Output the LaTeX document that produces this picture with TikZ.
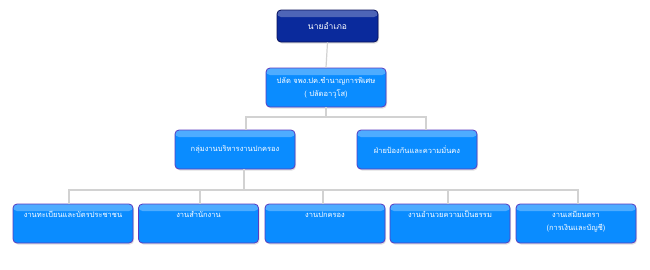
\documentclass[tikz,border=0pt]{standalone}
\usepackage{fontspec}
\newfontfamily\thaifont[Script=Thai]{Loma}
\usetikzlibrary{shadows}
\definecolor{navy}{HTML}{0A2A9C}
\definecolor{navyedge}{HTML}{08105A}
\definecolor{sky}{HTML}{0A8CFF}
\definecolor{skyedge}{HTML}{5A3CC0}
\definecolor{linkgray}{HTML}{D2D2D2}
\begin{document}
\begin{tikzpicture}[
  x=1pt, y=-1pt,
  orgbox/.style={rectangle, rounded corners=4pt, line width=0.8pt, align=center,
    font=\thaifont\fontsize{7.5}{13}\selectfont, text=white,
    drop shadow={opacity=0.25, shadow xshift=1pt, shadow yshift=-1.5pt},
    path picture={\fill[white, opacity=0.28] (path picture bounding box.north west)
      rectangle ([yshift=-7pt]path picture bounding box.north east);}},
  topbox/.style={orgbox, draw=navyedge, fill=navy, minimum width=101pt, minimum height=32pt,
    font=\thaifont\fontsize{8.5}{10}\selectfont},
  midbox/.style={orgbox, draw=skyedge, fill=sky, minimum width=120pt, minimum height=39pt},
  lowbox/.style={midbox, text height=9pt, text depth=22pt, inner ysep=4pt},
  lowbox2/.style={midbox, text height=22pt, text depth=9pt, inner ysep=4pt},
  link/.style={draw=linkgray, line width=1.2pt}]
  % connectors
  \coordinate (split1) at (326, 117);
  \coordinate (split2) at (244, 190);
  % boxes
  \node[topbox] (chief) at (327.5, 26) {นายอำเภอ};
  \node[midbox] (deputy) at (326, 87.5) {ปลัด จพง.ปค.ชำนาญการพิเศษ\\( ปลัดอาวุโส)};
  \node[midbox] (admin) at (235, 149.5) {กลุ่มงานบริหารงานปกครอง};
  \node[midbox] (defence) at (417, 149.5) {ฝ่ายป้องกันและความมั่นคง};
  \node[lowbox] (registry) at (73, 223.5) {งานทะเบียนและบัตรประชาชน};
  \node[lowbox] (office) at (198.5, 223.5) {งานสำนักงาน};
  \node[lowbox] (govern) at (325, 223.5) {งานปกครอง};
  \node[lowbox] (justice) at (450, 223.5) {งานอำนวยความเป็นธรรม};
  \node[lowbox2] (finance) at (576, 223.5) {งานเสมียนตรา\\(การเงินและบัญชี)};
  \draw[link] (chief.south) -- (deputy.north);
  \draw[link] (deputy.south) -- (split1);
  \draw[link] (split1) -| ([xshift=11pt]admin.north);
  \draw[link] (split1) -| ([xshift=9pt]defence.north);
  \draw[link] ([xshift=9pt]admin.south) -- (split2);
  \draw[link] (split2) -| ([xshift=-4pt]registry.north);
  \draw[link] (split2) -| ([xshift=1.5pt]office.north);
  \draw[link] (split2) -| ([xshift=-2pt]govern.north);
  \draw[link] (split2) -| ([xshift=-2pt]justice.north);
  \draw[link] (split2) -| ([xshift=2pt]finance.north);
  \useasboundingbox (0,0) rectangle (650,269);
\end{tikzpicture}
\end{document}
